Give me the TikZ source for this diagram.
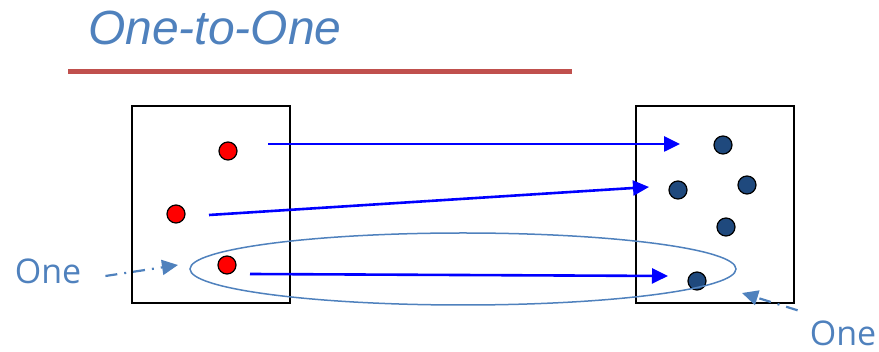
\documentclass[tikz,border=0pt]{standalone}
\usepackage{fontspec}
\setmainfont{Liberation Sans}
\newfontfamily\labelfont{Open Sans}
\usetikzlibrary{arrows.meta,positioning,calc}
\definecolor{titleblue}{RGB}{79,129,189}
\definecolor{rulered}{RGB}{192,80,77}
\definecolor{dotblue}{RGB}{31,73,125}

\begin{document}
\begin{tikzpicture}[x=1pt, y=-1pt,
  setbox/.style={draw=black, line width=2pt},
  reddot/.style={circle, draw=black, line width=1.2pt, fill=red, minimum size=18pt, inner sep=0pt},
  bluedot/.style={circle, draw=black, line width=1.2pt, fill=dotblue, minimum size=18pt, inner sep=0pt},
  maparrow/.style={-{Triangle[length=16pt, width=15pt]}, line width=2.6pt, draw=blue},
  note/.style={font=\labelfont\fontsize{34}{38}\selectfont, text=titleblue, inner sep=0pt},
  notearrow/.style={-{Triangle[length=16pt, width=15pt]}, line width=2.2pt, draw=titleblue,
    dash pattern=on 12pt off 7pt on 2pt off 7pt}]
  \useasboundingbox (0,0) rectangle (879,352);
  % title and rule
  \node[anchor=base west, inner sep=0pt, text=titleblue, font=\fontsize{48}{52}\selectfont\itshape] (title) at (88,45) {One-to-One};
  \draw[rulered, line width=5pt] (68,72) -- (572,72);
  % the two sets
  \draw[setbox] (132,106) rectangle (290,303);
  \draw[setbox] (636,106) rectangle (794,303);
  \node[reddot] (r1) at (228,151) {};
  \node[reddot] (r2) at (176,214) {};
  \node[reddot] (r3) at (227,265) {};
  \node[bluedot] (b1) at (723,145) {};
  \node[bluedot] (b2) at (678,190) {};
  \node[bluedot] (b3) at (747,185) {};
  \node[bluedot] (b4) at (726,227) {};
  \node[bluedot] (b5) at (697,281) {};
  % mapping
  \coordinate (s1) at (268,144);
  \coordinate (e1) at (680,144);
  \coordinate (s2) at (209,215);
  \coordinate (e2) at (649,187);
  \coordinate (s3) at (250,274);
  \coordinate (e3) at (668,276);
  \draw[maparrow] (s1) -- (e1);
  \draw[maparrow] (s2) -- (e2);
  \draw[maparrow] (s3) -- (e3);
  % the pair
  \draw[titleblue, line width=1.5pt] (463,269) ellipse [x radius=273, y radius=36];
  \node[note] (oneL) at (48,271) {One};
  \node[note] (oneR) at (843,333) {One};
  \coordinate (pL) at (178,265);
  \coordinate (pR) at (742,293);
  \draw[notearrow] (oneL.east) ++(24,5) -- (pL);
  \draw[notearrow] (oneR.north west) ++(-12,-10) -- (pR);
\end{tikzpicture}
\end{document}
